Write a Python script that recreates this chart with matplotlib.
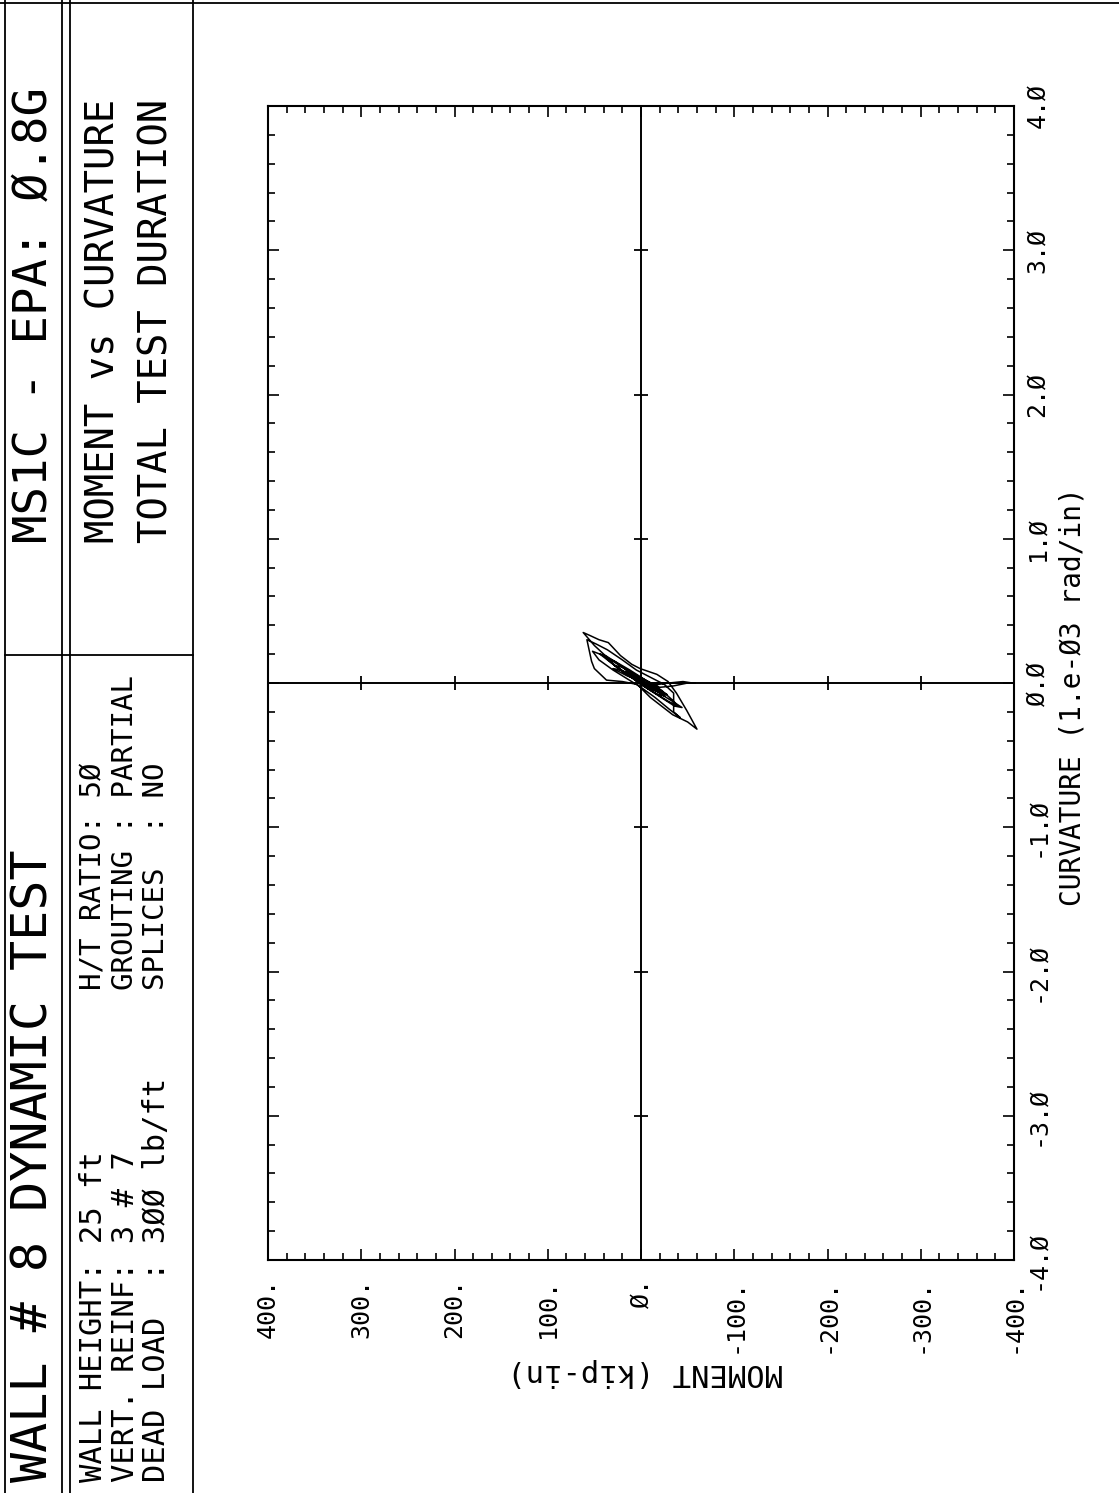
import matplotlib
matplotlib.use("Agg")
import matplotlib.pyplot as plt
from matplotlib.lines import Line2D
from matplotlib.ticker import MultipleLocator

# --- Données ---
# moment en kip-in, courbure en 1e-3 rad/in
MOMENT = [0, 10, 18, 12, 0, -12, -20, -14, 0,
          20, 32, 38, 28, 12, -5, -22, -34, -40, -30, -15, 0,
          15, 28, 40, 50, 62, 55, 45, 35, 22, 10, 1, -17, -29, -38, -49, -60,
          -50, -34, -22, -10, 4, 20, 37, 50, 53, 55, 58,
          48, 36, 20, 5, -10, -25, -35, -35, -42, -30, -15, 0, 15, 30, 45, 52,
          40, 25, 10, -5, -20, -35, -50, -58, -40, -20, -5,
          15, 30, 22, 5, -15, -28, -18, 0,
          12, 25, 34, 44, 38, 26, 14, 2, -10, -22, -32, -44, -36, -24, -12, 0,
          10, 20, 28, 20, 8, -4, -16, -26, -18, -8, 2,
          8, 16, 10, 0, -10, -18, -30, -45, -55, -35, -10]
CURVATURE = [0.0, 0.04, 0.08, 0.07, 0.02, -0.03, -0.06, -0.05, 0.0,
             0.08, 0.14, 0.18, 0.15, 0.09, 0.02, -0.05, -0.12, -0.16, -0.13, -0.07, -0.01,
             0.06, 0.12, 0.20, 0.26, 0.35, 0.33, 0.30, 0.28, 0.19, 0.13, 0.10, 0.06, 0.01, -0.07, -0.19, -0.32,
             -0.27, -0.22, -0.16, -0.10, -0.01, 0.01, 0.02, 0.10, 0.15, 0.21, 0.30,
             0.27, 0.23, 0.16, 0.09, 0.04, -0.01, -0.07, -0.20, -0.24, -0.18, -0.10, -0.03, 0.03, 0.09, 0.16, 0.22,
             0.19, 0.13, 0.07, 0.02, -0.03, -0.02, 0.0, 0.0, 0.0, 0.0, 0.0,
             0.05, 0.10, 0.09, 0.03, -0.03, -0.08, -0.06, 0.0,
             0.05, 0.11, 0.15, 0.20, 0.19, 0.14, 0.08, 0.03, -0.03, -0.08, -0.12, -0.17, -0.16, -0.11, -0.06, -0.01,
             0.04, 0.08, 0.12, 0.11, 0.06, 0.01, -0.04, -0.09, -0.08, -0.04, 0.0,
             0.03, 0.06, 0.05, 0.01, -0.02, -0.01, 0.0, 0.01, 0.0, 0.0, 0.0]

MOMENT_TICKS = [400, 300, 200, 100, 0, -100, -200, -300, -400]
MOMENT_LABELS = ["400.", "300.", "200.", "100.", "Ø.", "-100.", "-200.", "-300.", "-400."]
CURV_TICKS = [-4, -3, -2, -1, 0, 1, 2, 3, 4]
CURV_LABELS = ["-4.Ø", "-3.Ø", "-2.Ø", "-1.Ø", "Ø.Ø", "1.Ø", "2.Ø", "3.Ø", "4.Ø"]

TITLE_1 = "WALL # 8 DYNAMIC TEST"
TITLE_2 = "MS1C - EPA: Ø.8G"
INFO_LEFT = ["WALL HEIGHT: 25 ft", "VERT. REINF: 3 # 7", "DEAD LOAD  : 3ØØ lb/ft"]
INFO_RIGHT = ["H/T RATIO: 5Ø", "GROUTING : PARTIAL", "SPLICES  : NO"]
SUBTITLE = ["MOMENT vs CURVATURE", "TOTAL TEST DURATION"]

FONT = ["DejaVu Sans Mono", "DejaVu Sans"]
plt.rcParams["font.family"] = FONT

W, H = 1119, 1493
fig = plt.figure(figsize=(W / 100, H / 100), dpi=100)


def fx(px):
    return px / W


def fy(py):
    return 1 - py / H


# --- Cadre de l'en-tête ---
frame = [((0, W), (3, 3)),
         ((5, 5), (0, H)),
         ((62, 62), (0, H)),
         ((70, 70), (0, H)),
         ((193, 193), (0, H)),
         ((5, 193), (655, 655))]
for xs, ys in frame:
    fig.add_artist(Line2D([fx(x) for x in xs], [fy(y) for y in ys],
                          transform=fig.transFigure, color="black", lw=1.3))

# --- Textes de l'en-tête (tournés de 90°) ---
fig.text(fx(34), fy(1482), TITLE_1, rotation=90, ha="center", va="bottom", fontsize=36)
fig.text(fx(34), fy(543), TITLE_2, rotation=90, ha="center", va="bottom", fontsize=34)
for i, (t1, t2) in enumerate(zip(INFO_LEFT, INFO_RIGHT)):
    x = 94 + i * 31
    fig.text(fx(x), fy(1482), t1, rotation=90, ha="center", va="bottom", fontsize=22)
    fig.text(fx(x), fy(990), t2, rotation=90, ha="center", va="bottom", fontsize=21)
fig.text(fx(104), fy(543), SUBTITLE[0], rotation=90, ha="center", va="bottom", fontsize=28)
fig.text(fx(156), fy(543), SUBTITLE[1], rotation=90, ha="center", va="bottom", fontsize=28)

# --- Graphique (page tournée : moment en x, courbure en y) ---
ax = fig.add_axes([fx(268), fy(1260), fx(1014) - fx(268), fy(106) - fy(1260)])
ax.set_xlim(400, -400)
ax.set_ylim(-4, 4)
for s in ax.spines.values():
    s.set_linewidth(1.5)

ax.axhline(0, color="black", lw=1.4)
ax.axvline(0, color="black", lw=1.4)
ax.plot([m for m in MOMENT_TICKS if m not in (0, 400, -400)],
        [0] * 6, ls="none", marker="|", ms=10, mew=1.3, color="black")
ax.plot([0] * 6, [c for c in CURV_TICKS if c not in (0, 4, -4)],
        ls="none", marker="_", ms=10, mew=1.3, color="black")

ax.plot(MOMENT, CURVATURE, color="black", lw=1.1)

ax.set_xticks(MOMENT_TICKS, MOMENT_LABELS, rotation=90, fontsize=18)
ax.set_yticks(CURV_TICKS, CURV_LABELS, rotation=90, va="center", fontsize=18)
ax.xaxis.set_minor_locator(MultipleLocator(20))
ax.yaxis.set_minor_locator(MultipleLocator(0.2))
ax.tick_params(which="both", direction="in", top=True, right=True, bottom=True, left=True,
               labelbottom=True, labelright=True, labelleft=False, labeltop=False, width=1.2)
ax.tick_params(which="major", length=8)
ax.tick_params(which="minor", length=5)
ax.tick_params(axis="x", pad=13)
ax.tick_params(axis="y", pad=8)

fig.text(fx(645), fy(1372), "MOMENT (kip-in)", rotation=180, ha="center", va="center", fontsize=22)
fig.text(fx(1072), fy(697), "CURVATURE (1.e-Ø3 rad/in)", rotation=90, ha="center", va="center", fontsize=20)

fig.savefig("out.png", dpi=100)
